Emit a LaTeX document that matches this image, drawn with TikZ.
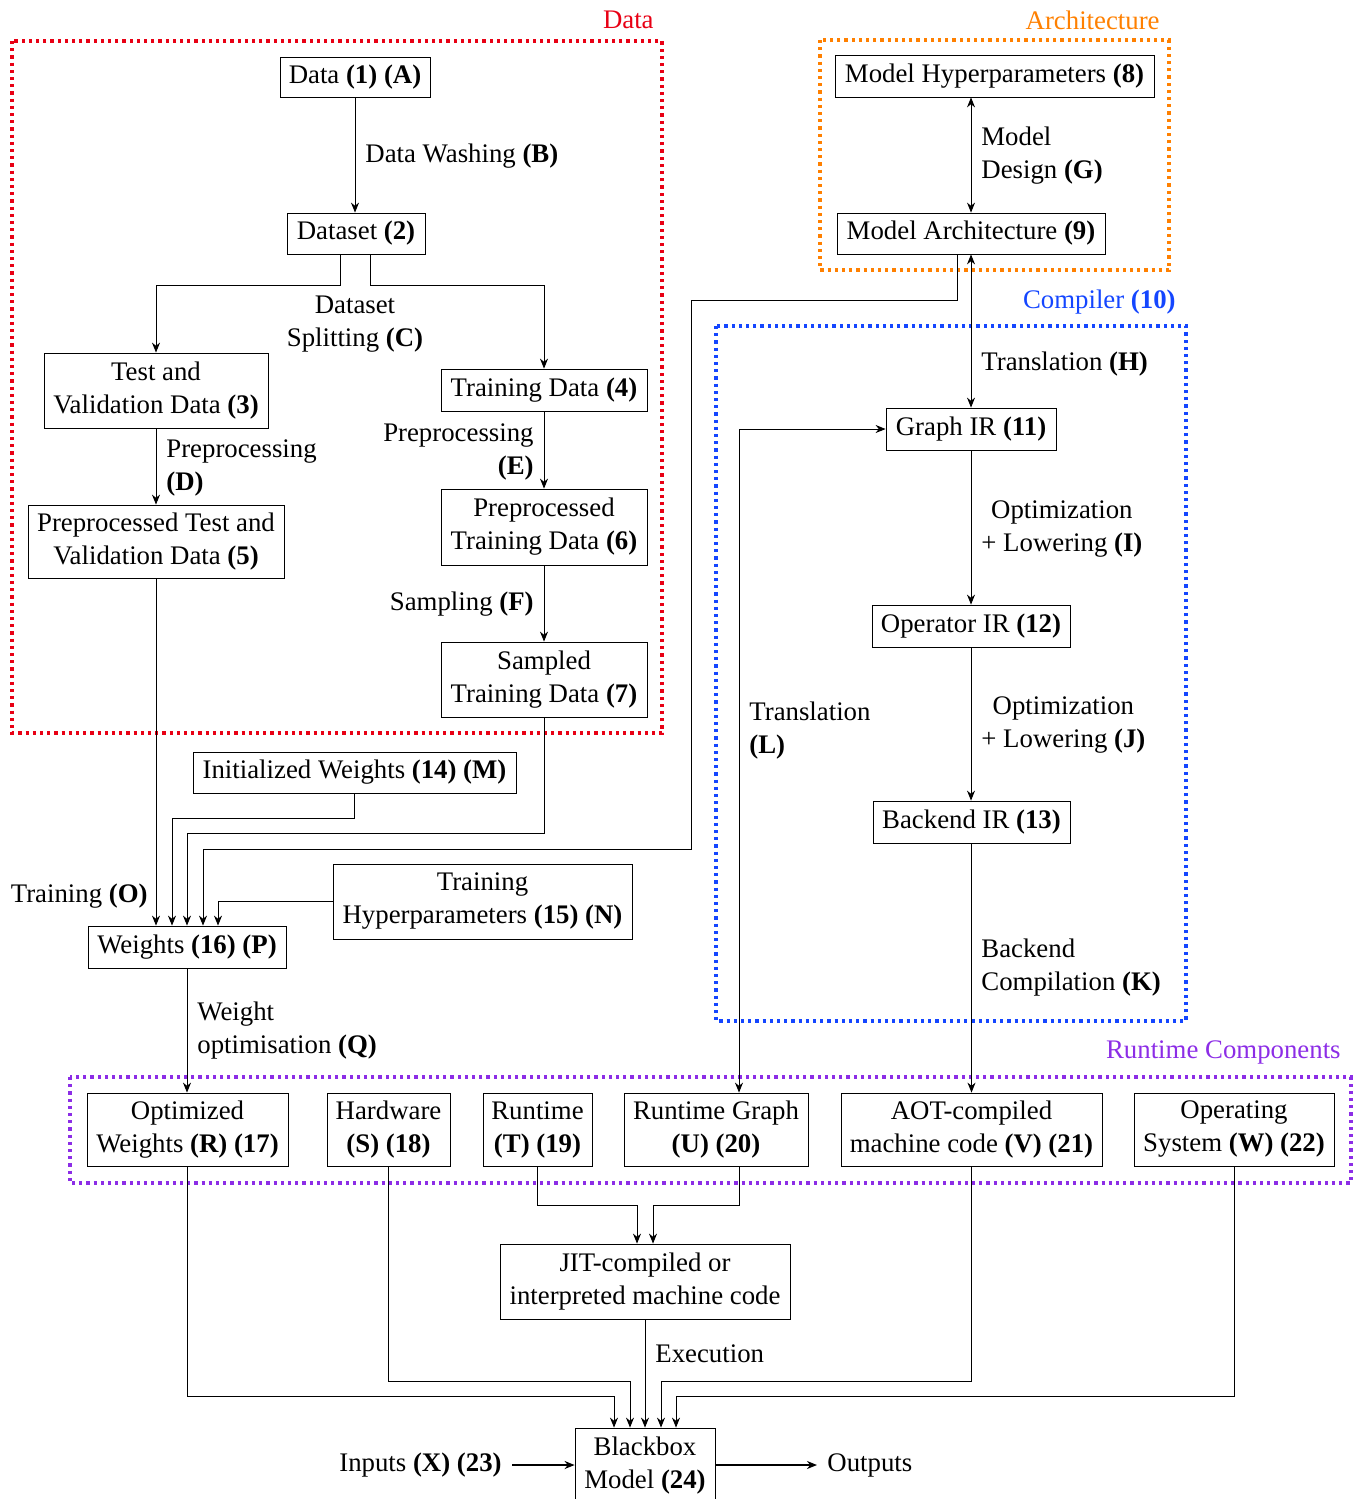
\documentclass[tikz,border=0pt]{standalone}
\usepackage{fontspec}
\setmainfont{Liberation Serif}
\usetikzlibrary{arrows.meta,calc}
\definecolor{grpred}{RGB}{232,0,20}
\definecolor{grporange}{RGB}{255,128,0}
\definecolor{grpblue}{RGB}{20,70,255}
\definecolor{grppurple}{RGB}{140,45,230}
\tikzset{
  bx/.style n args={2}{draw, align=center, inner sep=0pt, minimum width=#1, minimum height=#2},
  lbl/.style={inner sep=0pt},
  grp/.style={line width=1.6pt, dash pattern=on 1.6pt off 2pt},
  conn/.style={-{Stealth[length=5pt,width=4pt,inset=1.6pt]}, line width=0.5pt},
  dconn/.style={{Stealth[length=5pt,width=4pt,inset=1.6pt]}-{Stealth[length=5pt,width=4pt,inset=1.6pt]}, line width=0.5pt},
}
\begin{document}
\begin{tikzpicture}[x=0.5pt, y=-0.5pt, font=\fontsize{13.4}{16.5}\selectfont]
\useasboundingbox (0,0) rectangle (1358,1499);

% group boxes
\draw[grp, grpred] (12,41) rectangle (662,733);
\node[lbl, anchor=east, text=grpred] (gdata) at (654,20) {Data};
\draw[grp, grporange] (820,40) rectangle (1169,270);
\node[lbl, anchor=east, text=grporange] (garch) at (1160,20) {Architecture};
\draw[grp, grpblue] (716,326) rectangle (1186,1021);
\node[lbl, anchor=east, text=grpblue] (gcomp) at (1176,302) {Compiler \textbf{(10)}};
\draw[grp, grppurple] (70,1077) rectangle (1351,1183);
\node[lbl, anchor=east, text=grppurple] (grun) at (1341,1052) {Runtime Components};

% nodes
\node[bx={75pt}{20pt}] (n1) at (355,77) {Data \textbf{(1)} \textbf{(A)}};
\node[bx={69pt}{20.5pt}] (n2) at (356,233.5) {Dataset \textbf{(2)}};
\node[bx={112pt}{37.5pt}] (n3) at (156,390.5) {Test and\\Validation Data \textbf{(3)}};
\node[bx={103pt}{21pt}] (n4) at (544,390) {Training Data \textbf{(4)}};
\node[bx={128pt}{36.5pt}] (n5) at (156,541.5) {Preprocessed Test and\\Validation Data \textbf{(5)}};
\node[bx={103pt}{38pt}] (n6) at (544,527) {Preprocessed\\Training Data \textbf{(6)}};
\node[bx={103pt}{37.5pt}] (n7) at (544,679.5) {Sampled\\Training Data \textbf{(7)}};
\node[bx={159.5pt}{21pt}] (n8) at (994.5,76) {Model Hyperparameters \textbf{(8)}};
\node[bx={134pt}{20.5pt}] (n9) at (971,233.5) {Model Architecture \textbf{(9)}};
\node[bx={85pt}{21pt}] (n11) at (971,429) {Graph IR \textbf{(11)}};
\node[bx={99pt}{21pt}] (n12) at (971,626) {Operator IR \textbf{(12)}};
\node[bx={98.5pt}{21pt}] (n13) at (971.5,822) {Backend IR \textbf{(13)}};
\node[bx={161.5pt}{20.5pt}] (n14) at (354.5,772.5) {Initialized Weights \textbf{(14)} \textbf{(M)}};
\node[bx={149.5pt}{37.5pt}] (n15) at (482.5,901.5) {Training\\Hyperparameters \textbf{(15)} \textbf{(N)}};
\node[bx={99pt}{21pt}] (n16) at (187,947) {Weights \textbf{(16)} \textbf{(P)}};
\node[bx={100.5pt}{36.5pt}] (n17) at (187.5,1129.5) {Optimized\\Weights \textbf{(R)} \textbf{(17)}};
\node[bx={61.5pt}{36.5pt}] (n18) at (388.5,1129.5) {Hardware\\\textbf{(S)} \textbf{(18)}};
\node[bx={54.5pt}{36.5pt}] (n19) at (537.5,1129.5) {Runtime\\\textbf{(T)} \textbf{(19)}};
\node[bx={92pt}{36.5pt}] (n20) at (716,1129.5) {Runtime Graph\\\textbf{(U)} \textbf{(20)}};
\node[bx={130.5pt}{36.5pt}] (n21) at (971.5,1129.5) {AOT-compiled\\machine code \textbf{(V)} \textbf{(21)}};
\node[bx={100pt}{36.5pt}] (n22) at (1234,1129.5) {Operating\\System \textbf{(W)} \textbf{(22)}};
\node[bx={145pt}{37.5pt}] (n23) at (645,1281.5) {JIT-compiled or\\interpreted machine code};
\node[bx={70pt}{37.5pt}] (n24) at (645,1465.5) {Blackbox\\Model \textbf{(24)}};
\node[inner sep=5pt, anchor=east] (inp) at (512,1465) {Inputs \textbf{(X)} \textbf{(23)}};
\node[inner sep=5pt, anchor=west] (outp) at (817,1465) {Outputs};

% connectors
\draw[conn] (n1.south) -- (n1.south |- n2.north);
\draw[conn] ($(n2.south)+(-16,0)$) -- ++(0,31) -| (n3.north);
\draw[conn] ($(n2.south)+(14,0)$) -- ++(0,31) -| (n4.north);
\draw[conn] (n3.south) -- (n5.north);
\draw[conn] (n4.south) -- (n6.north);
\draw[conn] (n6.south) -- (n7.north);
\draw[dconn] (n9.north) -- (n9.north |- n8.south);
\draw[dconn] (n9.south) -- (n11.north);
\draw[conn] (n11.south) -- (n12.north);
\draw[conn] (n12.south) -- (n12.south |- n13.north);
\draw[conn] (n13.south) -- (n13.south |- n21.north);
\draw[dconn] (n11.west) -| ($(n20.north)+(23,0)$);
\draw[conn] ($(n9.south)+(-14,0)$) -- ++(0,46) -- ++(-266,0) -- ++(0,549) -| ($(n16.north)+(16,0)$);
\draw[conn] (n7.south) -- ++(0,116) -| (n16.north);
\draw[conn] (n14.south) -- ++(0,25) -| ($(n16.north)+(-15,0)$);
\draw[conn] (n5.south) -- (n5.south |- n16.north);
\draw[conn] (n15.west) -| ($(n16.north)+(31,0)$);
\draw[conn] (n16.south) -- (n16.south |- n17.north);
\draw[conn] (n19.south) -- ++(0,39) -| ($(n23.north)+(-8,0)$);
\draw[conn] ($(n20.south)+(23,0)$) -- ++(0,39) -| ($(n23.north)+(8,0)$);
\draw[conn] (n23.south) -- (n24.north);
\draw[conn] (n17.south) -- ++(0,230) -| ($(n24.north)+(-31,0)$);
\draw[conn] (n18.south) -- ++(0,215) -| ($(n24.north)+(-15,0)$);
\draw[conn] (n21.south) -- ++(0,215) -| ($(n24.north)+(16,0)$);
\draw[conn] (n22.south) -- ++(0,230) -| ($(n24.north)+(31,0)$);
\draw[conn, line width=0.8pt] (inp.east) -- (n24.west |- inp.east);
\draw[conn, line width=0.8pt] (n24.east |- outp.west) -- (outp.west);

% labels
\node[lbl, anchor=west] (lB) at (365,156) {Data Washing \textbf{(B)}};
\node[lbl, align=center] (lC) at (355,324) {Dataset\\Splitting \textbf{(C)}};
\node[lbl, align=left, anchor=west] (lD) at (166,468) {Preprocessing\\\textbf{(D)}};
\node[lbl, align=right, anchor=east] (lE) at (534,452) {Preprocessing\\\textbf{(E)}};
\node[lbl, anchor=east] (lF) at (534,604) {Sampling \textbf{(F)}};
\node[lbl, align=left, anchor=west] (lG) at (981,156) {Model\\Design \textbf{(G)}};
\node[lbl, anchor=west] (lH) at (981,364) {Translation \textbf{(H)}};
\node[lbl, align=center, anchor=west] (lI) at (981,529) {Optimization\\+ Lowering \textbf{(I)}};
\node[lbl, align=center, anchor=west] (lJ) at (981,725) {Optimization\\+ Lowering \textbf{(J)}};
\node[lbl, align=left, anchor=west] (lK) at (981,968) {Backend\\Compilation \textbf{(K)}};
\node[lbl, align=left, anchor=west] (lL) at (749,731) {Translation\\\textbf{(L)}};
\node[lbl, anchor=east] (lO) at (148,896) {Training \textbf{(O)}};
\node[lbl, align=left, anchor=west] (lQ) at (197,1031) {Weight\\optimisation \textbf{(Q)}};
\node[lbl, anchor=west] (lX) at (655,1354) {Execution};
\end{tikzpicture}
\end{document}
